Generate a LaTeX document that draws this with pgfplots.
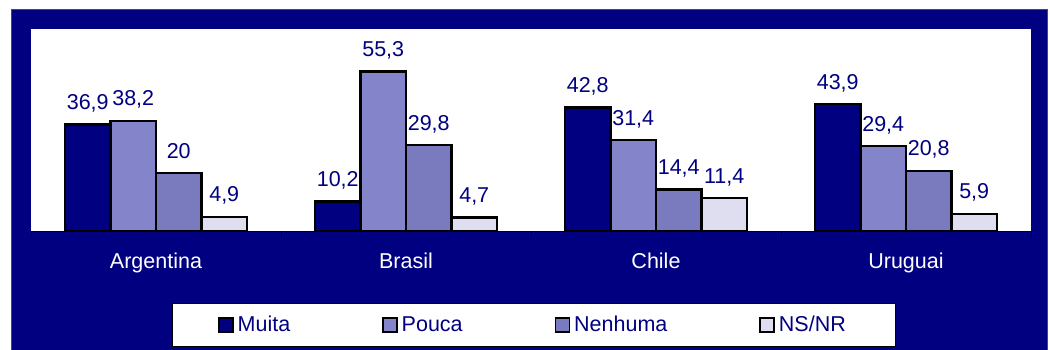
\documentclass[border=0pt]{standalone}
\usepackage{pgfplots}
\pgfplotsset{compat=1.18}
\usepackage{fontspec}
\setmainfont{Liberation Sans}
\definecolor{navyc}{HTML}{000080}
\definecolor{pouca}{HTML}{8484CA}
\definecolor{nenhuma}{HTML}{7A7ABE}
\definecolor{nsnr}{HTML}{DEDEF0}
\newcommand{\fs}{\fontsize{21.5bp}{25bp}\selectfont}
\begin{document}
\begin{tikzpicture}
\useasboundingbox (0,0) rectangle (1050bp,-350bp);
\fill[white] (0,0) rectangle (1050bp,-350bp);
\filldraw[fill=navyc, draw=black!70, line width=0.8bp] (11bp,-9bp) rectangle (1047bp,-360bp);
\begin{axis}[
  at={(31bp,-231bp)}, anchor=south west,
  scale only axis, width=1000bp, height=202bp,
  xmin=-0.5, xmax=3.5, ymin=0, ymax=70,
  axis background/.style={fill=white},
  axis x line=bottom, axis y line=none,
  axis line style={-, black, line width=1bp},
  ybar=0pt, bar width=45.5bp,
  xtick={0,1,2,3},
  xticklabels={Argentina,Brasil,Chile,Uruguai},
  major tick length=0pt,
  minor xtick={-0.5,0.5,1.5,2.5,3.5},
  minor tick length=6bp,
  tick align=outside,
  tick style={black, line width=0.6bp},
  xticklabel style={text=white, font=\fs, inner sep=0pt, anchor=north, yshift=-22bp},
  point meta=explicit symbolic,
  nodes near coords,
  every node near coord/.append style={font=\fs, text=navyc, anchor=base, inner sep=0pt, yshift=15bp},
  clip=false,
  legend columns=4,
  legend style={at={(0.503,-0.356)}, anchor=north, fill=white, draw=black, line width=0.8bp,
    font=\fs, text=navyc, inner xsep=46bp, inner ysep=11bp,
    nodes={inner xsep=4bp},
    /tikz/every even column/.append style={column sep=88bp}},
  legend image code/.code={\draw[#1, draw=black, line width=1.5bp] (0bp,-7bp) rectangle (14bp,7bp);},
]
\addplot[fill=navyc, draw=black, line width=2.2bp] coordinates {(0,36.9) [36,9] (1,10.2) [10,2] (2,42.8) [42,8] (3,43.9) [43,9]};
\addlegendentry{Muita}
\addplot[fill=pouca, draw=black, line width=2.2bp] coordinates {(0,38.2) [38,2] (1,55.3) [55,3] (2,31.4) [31,4] (3,29.4) [29,4]};
\addlegendentry{Pouca}
\addplot[fill=nenhuma, draw=black, line width=2.2bp] coordinates {(0,20) [20] (1,29.8) [29,8] (2,14.4) [14,4] (3,20.8) [20,8]};
\addlegendentry{Nenhuma}
\addplot[fill=nsnr, draw=black, line width=2.2bp] coordinates {(0,4.9) [4,9] (1,4.7) [4,7] (2,11.4) [11,4] (3,5.9) [5,9]};
\addlegendentry{NS/NR}
\end{axis}
\end{tikzpicture}
\end{document}
